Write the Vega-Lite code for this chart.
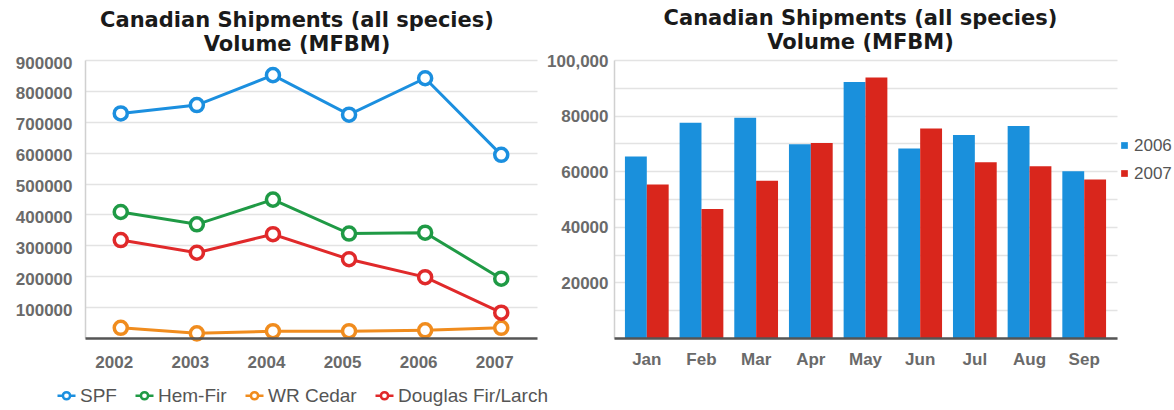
{
  "$schema": "https://vega.github.io/schema/vega-lite/v6.json",
  "background": "white",
  "padding": {"left": 15, "top": 7, "right": 0, "bottom": 0},
  "bounds": "flush",
  "spacing": 77,
  "resolve": {"scale": {"color": "independent", "x": "independent", "y": "independent"}, "legend": {"color": "independent"}},
  "config": {
    "view": {"stroke": null},
    "font": "Liberation Sans",
    "title": {"font": "DejaVu Sans", "fontSize": 21, "fontWeight": "bold", "color": "#1a1a1a", "lineHeight": 24.5, "offset": -1, "anchor": "middle"},
    "axis": {"labelFont": "Liberation Sans", "labelFontSize": 17, "labelFontWeight": "bold", "labelColor": "#6a6a6a", "ticks": false, "gridColor": "#e3e3e3", "gridWidth": 1.5, "title": null}
  },
  "hconcat": [
    {
      "width": 452,
      "height": 278,
      "title": {"text": ["Canadian Shipments (all species)", "Volume (MFBM)"], "dx": -14},
      "data": {"values": [
        {"year": "2002", "species": "SPF", "volume": 727000},
        {"year": "2003", "species": "SPF", "volume": 754000},
        {"year": "2004", "species": "SPF", "volume": 851000},
        {"year": "2005", "species": "SPF", "volume": 723000},
        {"year": "2006", "species": "SPF", "volume": 841000},
        {"year": "2007", "species": "SPF", "volume": 593000},
        {"year": "2002", "species": "Hem-Fir", "volume": 408000},
        {"year": "2003", "species": "Hem-Fir", "volume": 368000},
        {"year": "2004", "species": "Hem-Fir", "volume": 448000},
        {"year": "2005", "species": "Hem-Fir", "volume": 338000},
        {"year": "2006", "species": "Hem-Fir", "volume": 341000},
        {"year": "2007", "species": "Hem-Fir", "volume": 192000},
        {"year": "2002", "species": "WR Cedar", "volume": 33000},
        {"year": "2003", "species": "WR Cedar", "volume": 15000},
        {"year": "2004", "species": "WR Cedar", "volume": 22000},
        {"year": "2005", "species": "WR Cedar", "volume": 22000},
        {"year": "2006", "species": "WR Cedar", "volume": 25000},
        {"year": "2007", "species": "WR Cedar", "volume": 33000},
        {"year": "2002", "species": "Douglas Fir/Larch", "volume": 317000},
        {"year": "2003", "species": "Douglas Fir/Larch", "volume": 276000},
        {"year": "2004", "species": "Douglas Fir/Larch", "volume": 336000},
        {"year": "2005", "species": "Douglas Fir/Larch", "volume": 255000},
        {"year": "2006", "species": "Douglas Fir/Larch", "volume": 197000},
        {"year": "2007", "species": "Douglas Fir/Larch", "volume": 82000}
      ]},
      "mark": {"type": "line", "strokeWidth": 3, "point": {"filled": false, "fill": "white", "size": 170, "strokeWidth": 3.5}},
      "encoding": {
        "x": {"field": "year", "type": "ordinal", "scale": {"type": "point", "padding": 0.47},
          "axis": {"labelAngle": 0, "labelPadding": 16, "labelOffset": -7, "domainColor": "#555555", "domainWidth": 2.5, "grid": false, "zindex": 1}},
        "y": {"field": "volume", "type": "quantitative", "scale": {"domain": [0, 900000], "nice": false},
          "axis": {"values": [100000, 200000, 300000, 400000, 500000, 600000, 700000, 800000, 900000], "format": "d", "labelPadding": 13, "labelOffset": 3, "domainColor": "#d0d0d0", "domainWidth": 1.5}},
        "color": {"field": "species", "type": "nominal",
          "scale": {"domain": ["SPF", "Hem-Fir", "WR Cedar", "Douglas Fir/Larch"], "range": ["#1b8fdf", "#1f9a45", "#f08c1e", "#e0292a"]},
          "legend": {"orient": "none", "legendX": -29, "legendY": 325, "direction": "horizontal", "title": null,
            "symbolType": "M-1,0L-0.4,0M0.4,0L1,0M0.4,0A0.4,0.4 0 1,0 -0.4,0A0.4,0.4 0 1,0 0.4,0Z",
            "symbolSize": 324, "symbolStrokeWidth": 2.5, "symbolFillColor": "white",
            "labelFont": "Liberation Sans", "labelFontSize": 19, "labelColor": "#555555", "labelOffset": 3, "columnPadding": 13}}
      }
    },
    {
      "width": 503,
      "height": 278,
      "title": {"text": ["Canadian Shipments (all species)", "Volume (MFBM)"], "dx": -5},
      "data": {"values": [
        {"month": "Jan", "year": "2006", "volume": 65300},
        {"month": "Feb", "year": "2006", "volume": 77400},
        {"month": "Mar", "year": "2006", "volume": 79200},
        {"month": "Apr", "year": "2006", "volume": 69700},
        {"month": "May", "year": "2006", "volume": 92100},
        {"month": "Jun", "year": "2006", "volume": 68200},
        {"month": "Jul", "year": "2006", "volume": 73000},
        {"month": "Aug", "year": "2006", "volume": 76300},
        {"month": "Sep", "year": "2006", "volume": 60000},
        {"month": "Jan", "year": "2007", "volume": 55200},
        {"month": "Feb", "year": "2007", "volume": 46400},
        {"month": "Mar", "year": "2007", "volume": 56600},
        {"month": "Apr", "year": "2007", "volume": 70100},
        {"month": "May", "year": "2007", "volume": 93700},
        {"month": "Jun", "year": "2007", "volume": 75400},
        {"month": "Jul", "year": "2007", "volume": 63200},
        {"month": "Aug", "year": "2007", "volume": 61800},
        {"month": "Sep", "year": "2007", "volume": 57000}
      ]},
      "mark": {"type": "bar"},
      "encoding": {
        "x": {"field": "month", "type": "nominal", "sort": ["Jan", "Feb", "Mar", "Apr", "May", "Jun", "Jul", "Aug", "Sep"],
          "scale": {"paddingInner": 0.2, "paddingOuter": 0.2},
          "axis": {"labelAngle": 0, "labelPadding": 13, "domainColor": "#555555", "domainWidth": 2.5, "zindex": 1}},
        "xOffset": {"field": "year", "type": "nominal"},
        "y": {"field": "volume", "type": "quantitative", "scale": {"domain": [0, 100000], "nice": false},
          "axis": {"values": [0, 10000, 20000, 30000, 40000, 50000, 60000, 70000, 80000, 90000, 100000],
            "labelExpr": "datum.value == 100000 ? '100,000' : (datum.value > 0 && datum.value % 20000 == 0 ? '' + datum.value : '')",
            "labelPadding": 6, "labelOffset": 1, "domainColor": "#d0d0d0", "domainWidth": 1.5}},
        "color": {"field": "year", "type": "nominal", "scale": {"domain": ["2006", "2007"], "range": ["#1a90dc", "#d9261c"]},
          "legend": {"orient": "none", "legendX": 502, "legendY": 77, "title": null, "symbolType": "square", "symbolSize": 45,
            "labelFont": "Liberation Sans", "labelFontSize": 17, "labelColor": "#555555", "labelOffset": 1, "rowPadding": 10}}
      }
    }
  ]
}
